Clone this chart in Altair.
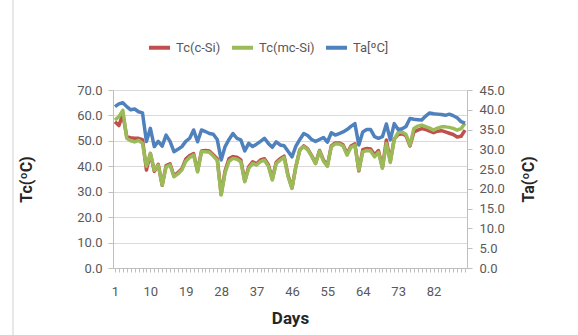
import altair as alt
import pandas as pd

# Daily series, days 1..90
days = list(range(1, 91))

tc_csi = [57.5, 56.0, 60.5, 51.5, 51.2, 51.0, 51.0, 50.5, 38.5, 45.0,
          38.0, 40.8, 32.5, 40.3, 41.0, 36.2, 37.5, 39.0, 42.8, 44.2,
          45.0, 38.2, 46.0, 46.2, 46.0, 44.5, 43.0, 29.0, 38.2, 43.0,
          43.8, 43.6, 42.5, 34.2, 39.8, 41.8, 41.0, 42.5, 43.0, 40.6,
          35.0, 41.6, 43.0, 44.0, 36.5, 31.5, 40.0, 46.5, 48.0, 46.8,
          44.2, 41.2, 46.2, 42.5, 40.2, 48.0, 49.2, 49.2, 48.4, 45.0,
          48.0, 48.8, 38.2, 46.5, 47.0, 46.8, 44.5, 46.2, 39.5, 50.3,
          42.0, 50.8, 52.5, 52.8, 52.0, 48.0, 53.5, 54.2, 54.8, 54.5,
          53.8, 53.2, 53.8, 54.0, 53.5, 53.0, 52.5, 51.5, 51.8, 54.2]

tc_mcsi = [58.2, 59.5, 62.0, 51.0, 50.0, 49.6, 50.2, 49.0, 40.0, 45.1,
           38.5, 40.5, 32.6, 39.8, 40.5, 35.9, 37.0, 38.5, 42.0, 43.5,
           44.4, 37.8, 45.7, 45.7, 45.5, 44.0, 42.4, 28.7, 37.5, 42.0,
           43.1, 42.8, 41.8, 33.9, 39.2, 41.1, 40.5, 41.8, 42.4, 40.0,
           34.6, 41.1, 42.4, 43.5, 36.0, 31.3, 39.8, 46.5, 47.7, 46.5,
           44.0, 41.0, 46.0, 42.0, 40.0, 47.7, 48.8, 48.8, 48.0, 44.4,
           47.5, 48.3, 38.5, 45.7, 46.2, 46.0, 43.7, 45.5, 39.2, 49.0,
           41.5, 50.5, 53.3, 53.5, 52.5, 48.3, 54.9, 55.8, 56.2, 55.6,
           55.0, 54.2, 55.0, 55.5, 55.5, 55.3, 54.9, 54.2, 54.8, 56.9]

ta = [40.8, 41.5, 41.8, 40.8, 40.0, 40.2, 39.5, 39.2, 32.0, 35.3,
      30.7, 32.0, 30.8, 33.6, 32.0, 29.4, 30.0, 30.7, 32.0, 32.8,
      34.9, 31.9, 34.9, 34.5, 34.0, 33.8, 32.5, 27.3, 30.7, 32.5,
      34.0, 32.8, 32.4, 29.6, 31.5, 30.7, 31.3, 32.0, 32.8, 31.5,
      30.5, 31.9, 31.1, 30.9, 29.5, 28.1, 30.8, 32.5, 34.0, 33.5,
      32.5, 32.0, 32.5, 33.0, 31.8, 34.2, 33.6, 34.0, 34.4, 35.0,
      35.8, 36.5, 31.1, 34.4, 35.0, 35.0, 33.2, 32.8, 33.2, 36.4,
      32.4, 36.5, 35.0, 35.2, 35.8, 37.8, 37.6, 37.5, 37.4, 38.4,
      39.2, 39.0, 38.9, 38.8, 38.6, 38.9, 38.5, 38.0, 37.0, 36.6]

names = ["Tc(c-Si)", "Tc(mc-Si)", "Ta[ºC]"]
colors = ["#C0504D", "#9BBB59", "#4F81BD"]

x_ticks = days
x_labels = [1, 10, 19, 28, 37, 46, 55, 64, 73, 82]
left_ticks = [0, 10, 20, 30, 40, 50, 60, 70]
right_ticks = [0, 5, 10, 15, 20, 25, 30, 35, 40, 45]

tc_df = pd.DataFrame({
    "day": days + days,
    "series": [names[0]] * len(days) + [names[1]] * len(days),
    "value": tc_csi + tc_mcsi,
})
ta_df = pd.DataFrame({"day": days, "series": names[2], "value": ta})

FONT = "Roboto"
GRAY = "#595959"
AXIS_GRAY = "#bfbfbf"
LINE_W = 3.5

label_test = " || ".join(f"datum.value == {v}" for v in x_labels)

x_enc = alt.X(
    "day:Q",
    scale=alt.Scale(domain=[0.5, 90.5], nice=False, zero=False),
    axis=alt.Axis(
        values=x_ticks,
        labelExpr=f"({label_test}) ? datum.value : ''",
        labelOverlap=False,
        grid=False,
        tickSize=4,
        tickColor=AXIS_GRAY,
        domainColor=AXIS_GRAY,
        labelPadding=13,
        labelFontSize=13,
        labelFont=FONT,
        labelColor=GRAY,
        title="Days",
        titleFont=FONT,
        titleFontSize=17,
        titleFontWeight="bold",
        titleColor="#262626",
        titlePadding=12,
    ),
)

color_enc = alt.Color(
    "series:N",
    scale=alt.Scale(domain=names, range=colors),
    legend=alt.Legend(
        title=None,
        orient="none",
        direction="horizontal",
        legendX=34,
        legendY=-55,
        symbolType="stroke",
        symbolSize=441,
        symbolStrokeWidth=4,
        labelFont=FONT,
        labelFontSize=13,
        labelColor=GRAY,
        labelOffset=4,
        columnPadding=3,
        padding=0,
    ),
)

tc_lines = alt.Chart(tc_df).mark_line(strokeWidth=LINE_W, strokeJoin="round").encode(
    x=x_enc,
    y=alt.Y(
        "value:Q",
        scale=alt.Scale(domain=[0, 70], nice=False),
        axis=alt.Axis(
            values=left_ticks,
            format=".1f",
            grid=True,
            gridColor="#d9d9d9",
            tickSize=5,
            tickColor=AXIS_GRAY,
            domainColor=AXIS_GRAY,
            labelPadding=6,
            labelFont=FONT,
            labelFontSize=13,
            labelColor=GRAY,
            title="Tc(ºC)",
            titleFont=FONT,
            titleFontSize=16,
            titleFontWeight="bold",
            titleColor="#262626",
            titlePadding=42,
        ),
    ),
    color=color_enc,
    detail="series:N",
)

ta_line = alt.Chart(ta_df).mark_line(strokeWidth=LINE_W, strokeJoin="round").encode(
    x=x_enc,
    y=alt.Y(
        "value:Q",
        scale=alt.Scale(domain=[0, 45], nice=False),
        axis=alt.Axis(
            orient="right",
            values=right_ticks,
            format=".1f",
            grid=False,
            tickSize=5,
            tickColor=AXIS_GRAY,
            domainColor=AXIS_GRAY,
            labelPadding=7,
            labelFont=FONT,
            labelFontSize=13,
            labelColor=GRAY,
            title="Ta(ºC)",
            titleAngle=270,
            titleFont=FONT,
            titleFontSize=16,
            titleFontWeight="bold",
            titleColor="#262626",
            titlePadding=32,
        ),
    ),
    color=color_enc,
)

# thin frame line on the left edge of the chart area
frame = alt.Chart(pd.DataFrame({"k": [0]})).mark_rule(color="#d0d0d0", strokeWidth=1).encode(
    x=alt.value(-100), y=alt.value(-95), y2=alt.value(250)
)

chart = (
    alt.layer(tc_lines, ta_line, frame)
    .resolve_scale(y="independent")
    .properties(
        width=354,
        height=178,
        autosize=alt.AutoSizeParams(type="none"),
        padding={"left": 113, "top": 90, "right": 111, "bottom": 67},
        background="white",
    )
    .configure_view(stroke=None)
)

chart.save("out.html", embed_options={"renderer": "svg", "actions": False})
